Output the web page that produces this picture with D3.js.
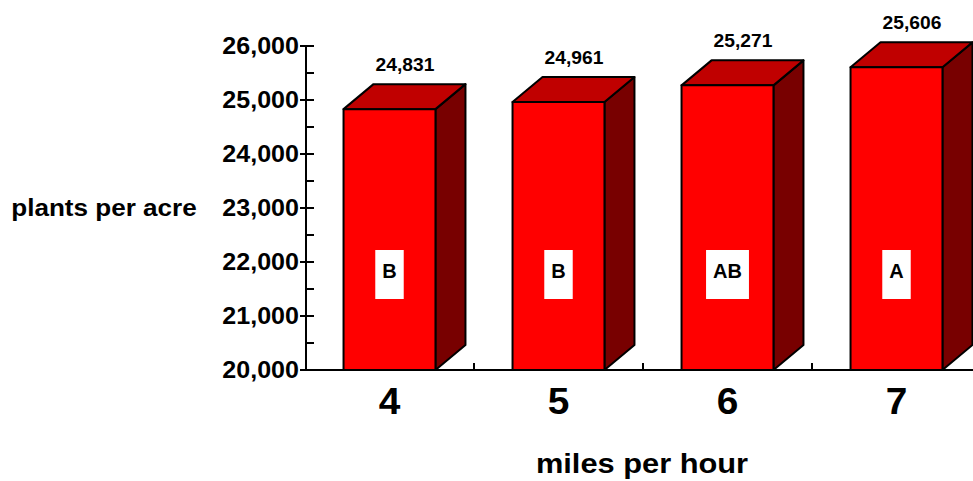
<!DOCTYPE html>
<html>
<head>
<meta charset="utf-8">
<script src="https://cdn.jsdelivr.net/npm/d3@7"></script>
<style>
  html, body { margin: 0; padding: 0; background: #fff; overflow: hidden; }
  svg { display: block; font-family: "Liberation Sans", Arial, Helvetica, sans-serif; font-weight: bold; }
</style>
</head>
<body>
<svg id="chart" width="973" height="481"></svg>
<script>
// Planting speed vs. final stand
const categories = ["4", "5", "6", "7"];
const plantsPerAcre = [24831, 24961, 25271, 25606];
const letterGroups = ["B", "B", "AB", "A"];
const yTicks = [20000, 21000, 22000, 23000, 24000, 25000, 26000];
const yMinorTicks = [20500, 21500, 22500, 23500, 24500, 25500];
const yAxisTitle = "plants per acre";
const xAxisTitle = "miles per hour";

const svg = d3.select("#chart");

const x = d3.scaleBand()
  .domain(categories)
  .range([305, 981])
  .paddingInner(0.456)
  .paddingOuter(0.228);
const y = d3.scaleLinear().domain([20000, 26000]).range([370, 46]);

const depth = { dx: 30, dy: 25 };
const fmt = d3.format(",");
const colors = { front: "#ff0000", top: "#c00000", side: "#780000" };

// stretched text helper (wide bold lettering)
function label(g, txt, px, py, size, anchor, sx) {
  return g.append("text")
    .attr("transform", `translate(${px},${py}) scale(${sx},1)`)
    .attr("text-anchor", anchor)
    .attr("font-size", size)
    .attr("fill", "#000")
    .text(txt);
}

// ---- y axis ----
const axisX = 306;
const gy = svg.append("g");
gy.append("line")
  .attr("x1", axisX).attr("x2", axisX)
  .attr("y1", y(26000)).attr("y2", y(20000))
  .attr("stroke", "#000").attr("stroke-width", 2);
gy.selectAll("line.major").data(yTicks).join("line")
  .attr("class", "major")
  .attr("x1", axisX - 6).attr("x2", axisX + 8)
  .attr("y1", d => y(d)).attr("y2", d => y(d))
  .attr("stroke", "#000").attr("stroke-width", 2);
gy.selectAll("line.minor").data(yMinorTicks).join("line")
  .attr("class", "minor")
  .attr("x1", axisX).attr("x2", axisX + 8)
  .attr("y1", d => y(d)).attr("y2", d => y(d))
  .attr("stroke", "#000").attr("stroke-width", 2);
yTicks.forEach(t => label(gy, fmt(t), axisX - 7, y(t) + 8, 23, "end", 1.09));

// ---- x axis ----
const gx = svg.append("g");
gx.append("line")
  .attr("x1", axisX - 1).attr("x2", 981)
  .attr("y1", y(20000)).attr("y2", y(20000))
  .attr("stroke", "#000").attr("stroke-width", 2);
const gap = x.step() - x.bandwidth();
gx.selectAll("line.xt").data(categories).join("line")
  .attr("class", "xt")
  .attr("x1", d => x(d) + x.bandwidth() + gap / 2)
  .attr("x2", d => x(d) + x.bandwidth() + gap / 2)
  .attr("y1", y(20000)).attr("y2", y(20000) - 7)
  .attr("stroke", "#000").attr("stroke-width", 2);
categories.forEach(c => label(gx, c, x(c) + x.bandwidth() / 2, 414, 37, "middle", 1.05));

// ---- 3D bars ----
const bars = svg.append("g");
categories.forEach((c, i) => {
  const v = plantsPerAcre[i];
  const x0 = x(c), x1 = x(c) + x.bandwidth();
  const yt = y(v), yb = y(20000);
  const { dx, dy } = depth;
  const g = bars.append("g")
    .attr("stroke", "#000").attr("stroke-width", 2).attr("stroke-linejoin", "round");
  g.append("polygon")
    .attr("points", [[x1, yt], [x1 + dx, yt - dy], [x1 + dx, yb - dy], [x1, yb]].join(" "))
    .attr("fill", colors.side);
  g.append("polygon")
    .attr("points", [[x0, yt], [x0 + dx, yt - dy], [x1 + dx, yt - dy], [x1, yt]].join(" "))
    .attr("fill", colors.top);
  g.append("rect")
    .attr("x", x0).attr("y", yt)
    .attr("width", x.bandwidth()).attr("height", yb - yt)
    .attr("fill", colors.front);

  // value above the bar top
  label(svg, fmt(v), x0 + x.bandwidth() / 2 + dx / 2 + 0.5, yt - dy - 13.5, 17.5, "middle", 1.1);

  // significance letter in a white box
  const cx = x0 + x.bandwidth() / 2;
  const boxTop = yb - 120;
  const lg = svg.append("g");
  const rect = lg.append("rect").attr("fill", "#fff");
  const t = lg.append("text")
    .attr("x", cx).attr("y", boxTop + 28)
    .attr("text-anchor", "middle")
    .attr("font-size", 20)
    .text(letterGroups[i]);
  const w = t.node().getComputedTextLength() + 14;
  rect.attr("x", cx - w / 2).attr("y", boxTop).attr("width", w).attr("height", 49);
});

// ---- axis titles ----
label(svg, yAxisTitle, 104, 216, 23.5, "middle", 1.11);
label(svg, xAxisTitle, 642, 473, 28, "middle", 1.1);
</script>
</body>
</html>
